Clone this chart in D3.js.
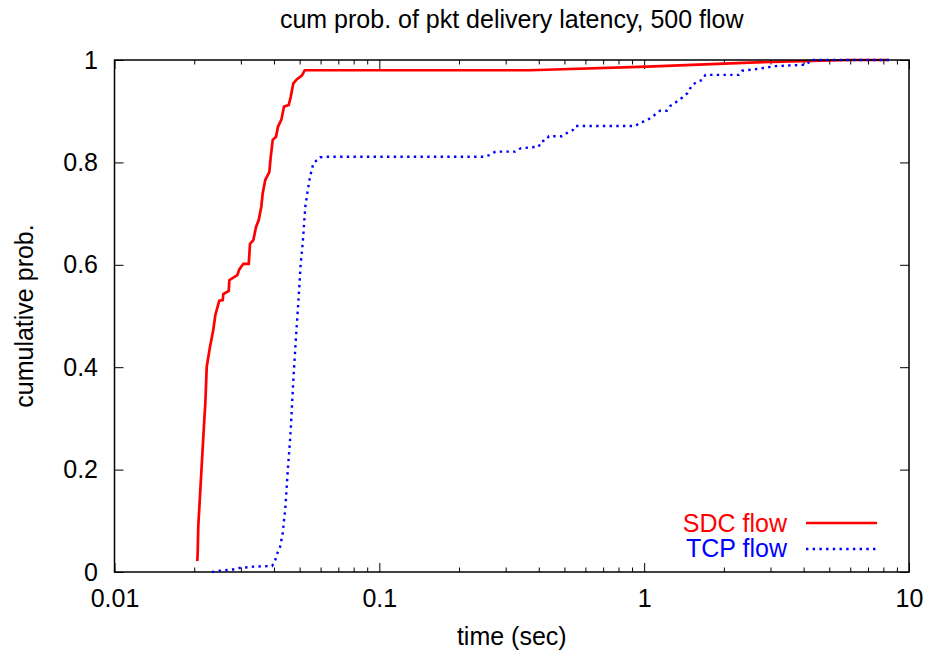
<!DOCTYPE html>
<html>
<head>
<meta charset="utf-8">
<script src="https://cdn.jsdelivr.net/npm/d3@7/dist/d3.min.js"></script>
<style>
  html, body { margin: 0; padding: 0; background: #fff; }
  svg { display: block; }
  text { font-family: "Liberation Sans", Arial, Helvetica, sans-serif; fill: #000; }
</style>
</head>
<body>
<svg id="chart" width="927" height="654"></svg>
<script>
// ---- data ----
const titleText = "cum prob. of pkt delivery latency, 500 flow";
const xLabelText = "time (sec)";
const yLabelText = "cumulative prob.";

const xTickValues = [0.01, 0.1, 1, 10];
const xTickLabels = ["0.01", "0.1", "1", "10"];
const yTickValues = [0, 0.2, 0.4, 0.6, 0.8, 1];
const yTickLabels = ["0", "0.2", "0.4", "0.6", "0.8", "1"];

const seriesNames = ["SDC flow", "TCP flow"];
const seriesColors = ["#ff0000", "#0000ff"];

const sdcTime = [0.02054, 0.0206, 0.02072, 0.02183, 0.02203, 0.0223, 0.02294, 0.02361, 0.02403, 0.02487,
  0.02562, 0.02576, 0.0270, 0.02714, 0.02909, 0.0296, 0.03065, 0.03213, 0.03249, 0.03344,
  0.03423, 0.03504, 0.03584, 0.03628, 0.03711, 0.03842, 0.0389, 0.03958, 0.04073, 0.04145,
  0.04265, 0.04367, 0.04549, 0.04628, 0.04734, 0.04876, 0.05106, 0.05228, 0.3709, 1.026,
  2.51, 5.99, 8.4];
const sdcProb = [0.0215, 0.033, 0.0898, 0.297, 0.330, 0.401, 0.440, 0.473, 0.502, 0.530,
  0.531, 0.543, 0.549, 0.570, 0.580, 0.591, 0.602, 0.602, 0.641, 0.648,
  0.674, 0.6875, 0.7135, 0.740, 0.766, 0.781, 0.811, 0.844, 0.850, 0.870,
  0.883, 0.909, 0.912, 0.928, 0.9545, 0.962, 0.970, 0.980, 0.980, 0.987,
  0.995, 1.0, 1.0];

const tcpTime = [0.02334, 0.02502, 0.0281, 0.02978, 0.03344, 0.03934, 0.04027, 0.0412, 0.04217, 0.04317,
  0.04367, 0.04416, 0.0447, 0.04521, 0.04572, 0.04628, 0.04734, 0.04846, 0.04961, 0.05049,
  0.05137, 0.05254, 0.05347, 0.05474, 0.05633, 0.05971, 0.06329, 0.247, 0.2618, 0.2742,
  0.3263, 0.342, 0.400, 0.407, 0.429, 0.4363, 0.4897, 0.5128, 0.5376, 0.5498,
  0.9265, 0.965, 1.023, 1.065, 1.148, 1.217, 1.253, 1.358, 1.456, 1.517,
  1.580, 1.655, 1.703, 2.277, 2.343, 2.630, 3.131, 4.112, 4.257, 8.45];
const tcpProb = [0.0, 0.0026, 0.005, 0.008, 0.0104, 0.0117, 0.020, 0.0365, 0.049, 0.0755,
  0.1016, 0.124, 0.167, 0.206, 0.238, 0.277, 0.375, 0.4596, 0.538, 0.603,
  0.642, 0.7135, 0.740, 0.772, 0.798, 0.810, 0.811, 0.811, 0.8145, 0.821,
  0.821, 0.8275, 0.8307, 0.8405, 0.844, 0.851, 0.851, 0.858, 0.863, 0.871,
  0.871, 0.8776, 0.882, 0.888, 0.901, 0.901, 0.910, 0.922, 0.935, 0.951,
  0.957, 0.961, 0.971, 0.971, 0.979, 0.982, 0.988, 0.991, 1.0, 1.0];

// ---- layout ----
const W = 927, H = 654;
const margin = { left: 114.5, right: 18, top: 60, bottom: 82 };
const plotW = W - margin.left - margin.right;
const plotH = H - margin.top - margin.bottom;
const FONT = 25;
const DOTS = "2.4,4.3";

const svg = d3.select("#chart");
const g = svg.append("g").attr("transform", `translate(${margin.left},${margin.top})`);

const x = d3.scaleLog().domain([0.01, 10]).range([0, plotW]);
const y = d3.scaleLinear().domain([0, 1]).range([plotH, 0]);

// minor ticks
const minorTicks = [];
[0.01, 0.1, 1].forEach(d => { for (let k = 2; k <= 9; k++) minorTicks.push(+(d * k).toPrecision(3)); });

function styleAxis(sel) {
  sel.select(".domain").remove();
  sel.selectAll("line").attr("stroke", "#000").attr("stroke-width", 1);
  sel.selectAll("text").style("font-size", FONT + "px").attr("fill", "#000");
}

// bottom major (labels)
g.append("g").attr("transform", `translate(0,${plotH})`)
  .call(d3.axisBottom(x).tickValues(xTickValues)
    .tickFormat((d, i) => xTickLabels[i]).tickSizeInner(-9).tickSizeOuter(0).tickPadding(17))
  .call(styleAxis);
// bottom minor
g.append("g").attr("transform", `translate(0,${plotH})`)
  .call(d3.axisBottom(x).tickValues(minorTicks).tickFormat("").tickSizeInner(-4.5).tickSizeOuter(0))
  .call(styleAxis);
// top major / minor
g.append("g")
  .call(d3.axisTop(x).tickValues(xTickValues).tickFormat("").tickSizeInner(-9).tickSizeOuter(0))
  .call(styleAxis);
g.append("g")
  .call(d3.axisTop(x).tickValues(minorTicks).tickFormat("").tickSizeInner(-4.5).tickSizeOuter(0))
  .call(styleAxis);
// left (labels)
g.append("g")
  .call(d3.axisLeft(y).tickValues(yTickValues)
    .tickFormat((d, i) => yTickLabels[i]).tickSizeInner(-9).tickSizeOuter(0).tickPadding(16.5))
  .call(styleAxis);
// right
g.append("g").attr("transform", `translate(${plotW},0)`)
  .call(d3.axisRight(y).tickValues(yTickValues).tickFormat("").tickSizeInner(-9).tickSizeOuter(0))
  .call(styleAxis);

// series (SDC first, TCP drawn on top, as in the reference)
const line = d3.line().x(d => x(d[0])).y(d => y(d[1]));
const sdcData = sdcTime.map((t, i) => [t, sdcProb[i]]);
const tcpData = tcpTime.map((t, i) => [t, tcpProb[i]]);

g.append("path").datum(sdcData)
  .attr("d", line).attr("fill", "none")
  .attr("stroke", seriesColors[0]).attr("stroke-width", 2.7)
  .attr("stroke-linejoin", "miter");

// border
g.append("rect").attr("x", 0).attr("y", 0).attr("width", plotW).attr("height", plotH)
  .attr("fill", "none").attr("stroke", "#000").attr("stroke-width", 1.5);

g.append("path").datum(tcpData)
  .attr("d", line).attr("fill", "none")
  .attr("stroke", seriesColors[1]).attr("stroke-width", 2.4)
  .attr("stroke-dasharray", DOTS);

// legend
const legendRows = [
  { name: seriesNames[0], color: seriesColors[0], dash: null, w: 2.7, ty: 532, ly: 523 },
  { name: seriesNames[1], color: seriesColors[1], dash: DOTS, w: 2.4, ty: 557, ly: 549 }
];
legendRows.forEach(r => {
  svg.append("text").attr("x", 787).attr("y", r.ty).attr("text-anchor", "end")
    .style("font-size", FONT + "px").style("fill", r.color).text(r.name);
  const l = svg.append("line").attr("x1", 806).attr("x2", 877).attr("y1", r.ly).attr("y2", r.ly)
    .attr("stroke", r.color).attr("stroke-width", r.w);
  if (r.dash) l.attr("stroke-dasharray", r.dash);
});

// title & axis labels
svg.append("text").attr("x", margin.left + plotW / 2).attr("y", 28).attr("text-anchor", "middle")
  .style("font-size", FONT + "px").text(titleText);
svg.append("text").attr("x", margin.left + plotW / 2).attr("y", 645).attr("text-anchor", "middle")
  .style("font-size", FONT + "px").text(xLabelText);
svg.append("text").attr("transform", `translate(33,${margin.top + plotH / 2}) rotate(-90)`)
  .attr("text-anchor", "middle").style("font-size", FONT + "px").text(yLabelText);
</script>
</body>
</html>
